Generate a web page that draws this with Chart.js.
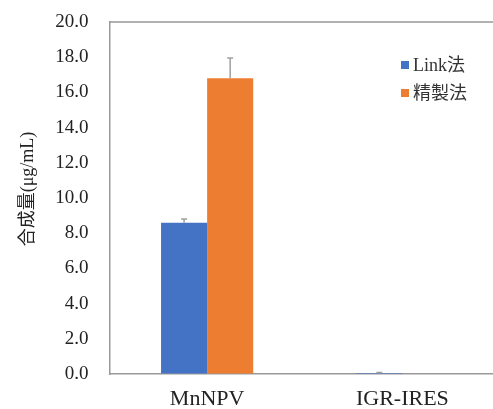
<!DOCTYPE html>
<html>
<head>
<meta charset="utf-8">
<script src="https://cdn.jsdelivr.net/npm/chart.js@4"></script>
<style>
html,body{margin:0;padding:0;overflow:hidden;background:#fff;width:493px;height:409px;}
canvas{display:block;}
</style>
</head>
<body>
<canvas id="c" width="500" height="409"></canvas>
<script>
const categories = ["MnNPV", "IGR-IRES"];
const seriesNames = ["Link法", "精製法"];
const linkValues = [8.6, 0.06];
const linkErrors = [0.2, 0.02];
const seiseiValues = [16.8, 0.0];
const seiseiErrors = [1.15, 0.0];
const yTicks = [0, 2, 4, 6, 8, 10, 12, 14, 16, 18, 20];

const FONT = '"Liberation Serif", "Noto Sans CJK JP", serif';

const errorBars = {
  id: 'errorBars',
  afterDatasetsDraw(chart) {
    const ctx = chart.ctx;
    const y = chart.scales.y;
    ctx.save();
    ctx.strokeStyle = '#a0a0a0';
    ctx.lineWidth = 1.5;
    chart.data.datasets.forEach((ds, di) => {
      const meta = chart.getDatasetMeta(di);
      meta.data.forEach((bar, i) => {
        const e = ds.errors[i];
        if (!e) return;
        const v = ds.data[i];
        const yTop = y.getPixelForValue(v + e);
        const yBase = y.getPixelForValue(v);
        ctx.beginPath();
        ctx.moveTo(bar.x, yBase);
        ctx.lineTo(bar.x, yTop);
        ctx.moveTo(bar.x - 3, yTop);
        ctx.lineTo(bar.x + 3, yTop);
        ctx.stroke();
      });
    });
    ctx.restore();
  }
};

const frame = {
  id: 'frame',
  beforeDatasetsDraw(chart) {
    const a = chart.chartArea;
    const ctx = chart.ctx;
    ctx.save();
    ctx.strokeStyle = '#999';
    ctx.lineWidth = 1.5;
    ctx.beginPath();
    ctx.moveTo(a.left, a.top);
    ctx.lineTo(a.right, a.top);
    ctx.stroke();
    ctx.restore();
  }
};

const customLegend = {
  id: 'customLegend',
  afterDraw(chart) {
    const ctx = chart.ctx;
    ctx.save();
    ctx.font = '18px ' + FONT;
    ctx.textBaseline = 'middle';
    ctx.textAlign = 'left';
    chart.data.datasets.forEach((ds, i) => {
      const cy = 65 + i * 28;
      ctx.fillStyle = ds.backgroundColor;
      ctx.fillRect(401, cy - 4, 8, 8);
      ctx.fillStyle = '#333';
      ctx.fillText(ds.label, 413, cy + 1);
    });
    ctx.restore();
  }
};

new Chart(document.getElementById('c'), {
  type: 'bar',
  data: {
    labels: categories,
    datasets: [
      { label: seriesNames[0], data: linkValues, errors: linkErrors, backgroundColor: '#4472C4' },
      { label: seriesNames[1], data: seiseiValues, errors: seiseiErrors, backgroundColor: '#ED7D31' }
    ]
  },
  options: {
    responsive: false,
    animation: false,
    layout: { padding: { top: 22, left: 0, right: 0, bottom: 0 } },
    plugins: { legend: { display: false }, tooltip: { enabled: false } },
    datasets: { bar: { categoryPercentage: 0.472, barPercentage: 1.0 } },
    scales: {
      x: {
        grid: { display: false, drawTicks: false },
        border: { display: true, color: '#999', width: 1.5 },
        ticks: { font: { family: FONT, size: 22 }, color: '#222', padding: 12 },
        afterFit(s) { s.height = 35; }
      },
      y: {
        min: 0, max: 20,
        afterBuildTicks(s) { s.ticks = yTicks.map(v => ({ value: v })); },
        grid: { display: true, drawOnChartArea: false, drawTicks: true, tickLength: 21, tickColor: 'rgba(0,0,0,0)' },
        border: { display: true, color: '#999', width: 1.5 },
        ticks: {
          font: { family: FONT, size: 19 }, color: '#222', padding: 0,
          callback: v => Number(v).toFixed(1)
        },
        title: {
          display: true, text: '\u00A0\u00A0\u00A0\u00A0合成量(μg/mL)',
          font: { family: FONT, size: 18 }, color: '#222',
          padding: { top: 17, bottom: 0 }
        },
        afterFit(s) { s.width = 109.5; }
      }
    }
  },
  plugins: [errorBars, frame, customLegend]
});
</script>
</body>
</html>
